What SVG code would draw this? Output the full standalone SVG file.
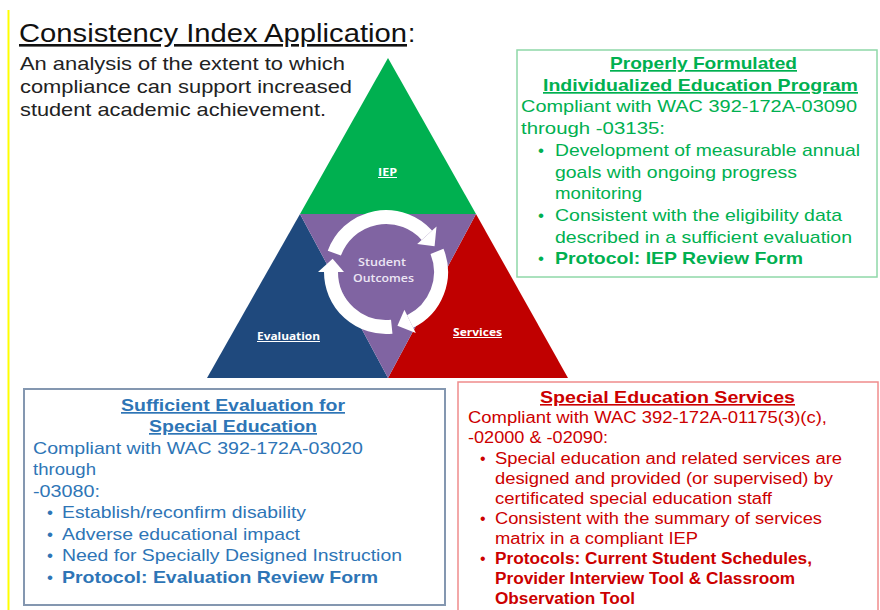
<svg xmlns="http://www.w3.org/2000/svg" width="880" height="610" viewBox="0 0 880 610">
<style>
text{font-family:"Liberation Sans",Arial,sans-serif}
.title{font-size:26px;fill:#111}
.sub{font-size:19px;fill:#222}
.g{font-size:17px;fill:#00b050}
.b{font-size:17px;fill:#2e75b6}
.r{font-size:16px;fill:#cc0000}
.bold{font-weight:bold}
.ul{text-decoration:underline}
.lbl{font-family:"Open Sans","Liberation Sans",sans-serif;font-size:10px;font-weight:bold;fill:#fff;text-decoration:underline}
.so{font-family:"Open Sans","Liberation Sans",sans-serif;font-size:11px;font-weight:600;fill:#ece6f4}
.arc{fill:none;stroke:#fff;stroke-width:14}
.head{fill:#fff}
</style>
<rect x="0" y="0" width="880" height="610" fill="#fff"/>
<line x1="8.5" y1="10" x2="8.5" y2="610" stroke="#ffff00" stroke-width="2"/>

<g id="title">
<text class="title ul" x="19" y="42" textLength="388" lengthAdjust="spacingAndGlyphs">Consistency Index Application</text>
<text class="title" x="408" y="42">:</text>
<text class="sub" x="20" y="70" textLength="325" lengthAdjust="spacingAndGlyphs">An analysis of the extent to which</text>
<text class="sub" x="20" y="93" textLength="332" lengthAdjust="spacingAndGlyphs">compliance can support increased</text>
<text class="sub" x="20" y="116" textLength="306" lengthAdjust="spacingAndGlyphs">student academic achievement.</text>
</g>

<g id="pyramid">
<g id="iep"><polygon points="388,58 300,214 476,214" fill="#00b050"/>
<text class="lbl" x="378" y="176" textLength="19" lengthAdjust="spacingAndGlyphs">IEP</text></g>
<g id="evaluation"><polygon points="300,214 207,378 388,378" fill="#1f497d"/>
<text class="lbl" x="257" y="340" textLength="63" lengthAdjust="spacingAndGlyphs">Evaluation</text></g>
<g id="services"><polygon points="476,214 388,378 568,378" fill="#c00000"/>
<text class="lbl" x="453" y="336" textLength="49" lengthAdjust="spacingAndGlyphs">Services</text></g>
<g id="outcomes"><polygon points="300,214 476,214 388,378" fill="#8064a2"/>
<text class="so" x="358" y="266" textLength="48" lengthAdjust="spacingAndGlyphs">Student</text>
<text class="so" x="353" y="282" textLength="61" lengthAdjust="spacingAndGlyphs">Outcomes</text></g>
</g>

<g id="connectors">
<path class="arc" d="M334.32,253.19 A55,55 0 0 1 426.87,235.20"/>
<polygon class="head" points="436.53,226.50 417.21,243.90 434.56,246.18"/>
<path class="arc" d="M437.00,251.40 A55,55 0 0 1 410.11,321.43"/>
<polygon class="head" points="415.81,333.12 404.41,309.75 397.43,325.80"/>
<path class="arc" d="M391.75,326.70 A55,55 0 0 1 331,272"/>
<polygon class="head" points="318,272 344,272 332.63,258.70"/>
</g>

<g id="box-iep">
<rect x="517" y="50" width="360" height="227" fill="#fff" stroke="#8fd8a8" stroke-width="1.5"/>
<text class="g bold ul" x="610" y="69" textLength="187" lengthAdjust="spacingAndGlyphs">Properly Formulated</text>
<text class="g bold ul" x="543" y="91" textLength="315" lengthAdjust="spacingAndGlyphs">Individualized Education Program</text>
<text class="g" x="521" y="112" textLength="336" lengthAdjust="spacingAndGlyphs">Compliant with WAC 392-172A-03090</text>
<text class="g" x="521" y="134" textLength="144" lengthAdjust="spacingAndGlyphs">through -03135:</text>
<text class="g" x="538" y="156">•</text>
<text class="g" x="555" y="156" textLength="305" lengthAdjust="spacingAndGlyphs">Development of measurable annual</text>
<text class="g" x="555" y="178" textLength="242" lengthAdjust="spacingAndGlyphs">goals with ongoing progress</text>
<text class="g" x="555" y="199" textLength="87" lengthAdjust="spacingAndGlyphs">monitoring</text>
<text class="g" x="538" y="221">•</text>
<text class="g" x="555" y="221" textLength="287" lengthAdjust="spacingAndGlyphs">Consistent with the eligibility data</text>
<text class="g" x="555" y="243" textLength="297" lengthAdjust="spacingAndGlyphs">described in a sufficient evaluation</text>
<text class="g" x="538" y="264">•</text>
<text class="g bold" x="555" y="264" textLength="248" lengthAdjust="spacingAndGlyphs">Protocol: IEP Review Form</text>
</g>

<g id="box-evaluation">
<rect x="24" y="389" width="421" height="216" fill="#fff" stroke="#8497b0" stroke-width="2"/>
<text class="b bold ul" x="121" y="411" textLength="224" lengthAdjust="spacingAndGlyphs">Sufficient Evaluation for</text>
<text class="b bold ul" x="149" y="432" textLength="168" lengthAdjust="spacingAndGlyphs">Special Education</text>
<text class="b" x="33" y="454" textLength="330" lengthAdjust="spacingAndGlyphs">Compliant with WAC 392-172A-03020</text>
<text class="b" x="33" y="475" textLength="63" lengthAdjust="spacingAndGlyphs">through</text>
<text class="b" x="33" y="497" textLength="67" lengthAdjust="spacingAndGlyphs">-03080:</text>
<text class="b" x="47" y="518">•</text>
<text class="b" x="62" y="518" textLength="244" lengthAdjust="spacingAndGlyphs">Establish/reconfirm disability</text>
<text class="b" x="47" y="540">•</text>
<text class="b" x="62" y="540" textLength="238" lengthAdjust="spacingAndGlyphs">Adverse educational impact</text>
<text class="b" x="47" y="561">•</text>
<text class="b" x="62" y="561" textLength="340" lengthAdjust="spacingAndGlyphs">Need for Specially Designed Instruction</text>
<text class="b" x="47" y="583">•</text>
<text class="b bold" x="62" y="583" textLength="316" lengthAdjust="spacingAndGlyphs">Protocol: Evaluation Review Form</text>
</g>

<g id="box-services">
<rect x="458" y="382" width="420" height="240" fill="#fff" stroke="#f08c8c" stroke-width="1.5"/>
<text class="r bold ul" x="540" y="403" textLength="255" lengthAdjust="spacingAndGlyphs">Special Education Services</text>
<text class="r" x="468" y="423" textLength="359" lengthAdjust="spacingAndGlyphs">Compliant with WAC 392-172A-01175(3)(c),</text>
<text class="r" x="468" y="443" textLength="140" lengthAdjust="spacingAndGlyphs">-02000 &amp; -02090:</text>
<text class="r" x="480" y="464">•</text>
<text class="r" x="495" y="464" textLength="347" lengthAdjust="spacingAndGlyphs">Special education and related services are</text>
<text class="r" x="495" y="484" textLength="338" lengthAdjust="spacingAndGlyphs">designed and provided (or supervised) by</text>
<text class="r" x="495" y="504" textLength="277" lengthAdjust="spacingAndGlyphs">certificated special education staff</text>
<text class="r" x="480" y="524">•</text>
<text class="r" x="495" y="524" textLength="327" lengthAdjust="spacingAndGlyphs">Consistent with the summary of services</text>
<text class="r" x="495" y="544" textLength="203" lengthAdjust="spacingAndGlyphs">matrix in a compliant IEP</text>
<text class="r" x="480" y="564">•</text>
<text class="r bold" x="495" y="564" textLength="317" lengthAdjust="spacingAndGlyphs">Protocols: Current Student Schedules,</text>
<text class="r bold" x="495" y="584" textLength="300" lengthAdjust="spacingAndGlyphs">Provider Interview Tool &amp; Classroom</text>
<text class="r bold" x="495" y="604" textLength="140" lengthAdjust="spacingAndGlyphs">Observation Tool</text>
</g>
</svg>
